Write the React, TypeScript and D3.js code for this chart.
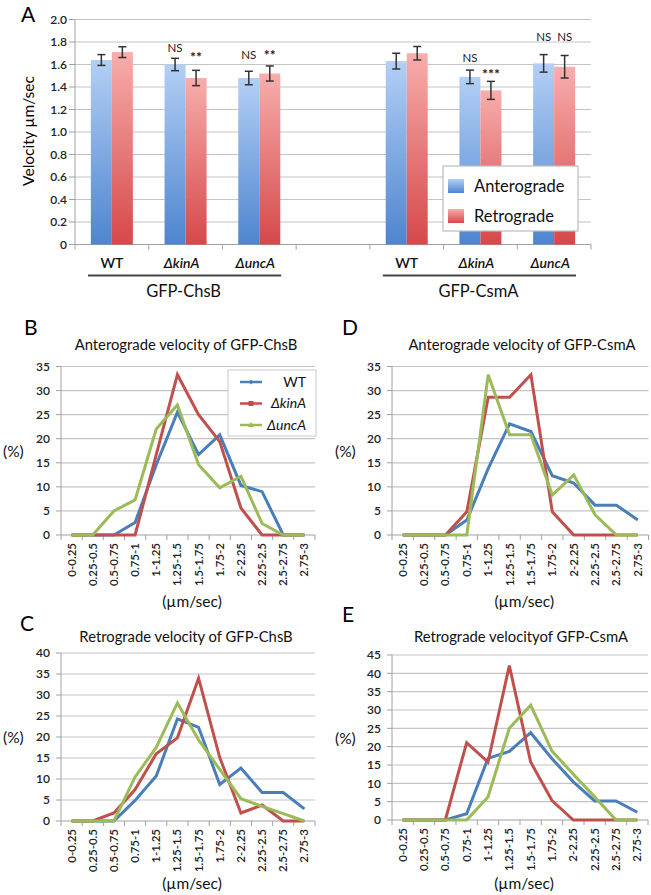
import React from "react";
import * as d3 from "d3";

// ---------- Panel A data ----------
const barCategories = ["WT", "ΔkinA", "ΔuncA", "", "WT", "ΔkinA", "ΔuncA"];
const barSeries = ["Anterograde", "Retrograde"];
const anteroMeans = [1.64, 1.6, 1.48, null, 1.63, 1.49, 1.61];
const anteroErr = [0.048, 0.055, 0.06, null, 0.07, 0.06, 0.078];
const retroMeans = [1.71, 1.48, 1.52, null, 1.7, 1.37, 1.58];
const retroErr = [0.048, 0.068, 0.067, null, 0.06, 0.08, 0.1];
const barYTicks = [0, 0.2, 0.4, 0.6, 0.8, 1.0, 1.2, 1.4, 1.6, 1.8, 2.0];
const groupLabels = ["GFP-ChsB", "GFP-CsmA"];
const groupBands = [[0, 2], [4, 6]];
// significance annotations: category index, series index, text, level (velocity units)
const annotations = [
  { cat: 1, s: 0, text: "NS", at: 1.747 },
  { cat: 1, s: 1, text: "**", at: 1.693 },
  { cat: 2, s: 0, text: "NS", at: 1.689 },
  { cat: 2, s: 1, text: "**", at: 1.707 },
  { cat: 5, s: 0, text: "NS", at: 1.658 },
  { cat: 5, s: 1, text: "***", at: 1.542 },
  { cat: 6, s: 0, text: "NS", at: 1.853 },
  { cat: 6, s: 1, text: "NS", at: 1.853 },
];

// ---------- Histogram panels data ----------
const bins = ["0-0.25", "0.25-0.5", "0.5-0.75", "0.75-1", "1-1.25", "1.25-1.5", "1.5-1.75", "1.75-2", "2-2.25", "2.25-2.5", "2.5-2.75", "2.75-3"];
const strains = ["WT", "ΔkinA", "ΔuncA"];

const antChsB_WT = [0, 0, 0, 2.6, 14.6, 25.5, 16.7, 20.8, 10.3, 9, 0, 0];
const antChsB_kinA = [0, 0, 0, 0, 16.7, 33.3, 25, 19.4, 5.6, 0, 0, 0];
const antChsB_uncA = [0, 0, 5, 7.3, 22, 27, 14.6, 9.8, 12.2, 2.4, 0, 0];

const antCsmA_WT = [0, 0, 0, 3.1, 13.8, 23.1, 21.5, 12.3, 10.8, 6.2, 6.2, 3.1];
const antCsmA_kinA = [0, 0, 0, 4.8, 28.6, 28.6, 33.3, 4.8, 0, 0, 0, 0];
const antCsmA_uncA = [0, 0, 0, 0, 33.3, 20.8, 20.8, 8.3, 12.5, 4.2, 0, 0];

const retChsB_WT = [0, 0, 0, 4.9, 10.7, 24.3, 22.3, 8.7, 12.6, 6.8, 6.8, 2.9];
const retChsB_kinA = [0, 0, 1.9, 7.5, 16, 19.8, 34, 15.1, 1.9, 3.8, 0, 0];
const retChsB_uncA = [0, 0, 0, 10.5, 17.5, 28.1, 19.3, 12.3, 5.3, 3.5, 1.75, 0];

const retCsmA_WT = [0, 0, 0, 1.7, 16.8, 18.7, 23.8, 16.7, 10.4, 5.2, 5.2, 2.1];
const retCsmA_kinA = [0, 0, 0, 21.1, 15.8, 42.1, 15.8, 5.3, 0, 0, 0, 0];
const retCsmA_uncA = [0, 0, 0, 0, 6.3, 25, 31.3, 18.8, 12.5, 6.3, 0, 0];

const lineColors = ["#4a7ebb", "#c0504d", "#9bbb59"];
const FONT = "Lato, 'Open Sans', sans-serif";

function BarPanel() {
  const left = 75, right = 591, top = 19.5, bottom = 244.5;
  const x = d3.scaleBand<number>().domain(d3.range(barCategories.length)).range([left, right]).padding(0);
  const xs = d3.scaleBand<number>().domain([0, 1]).range([0, x.bandwidth()]).paddingInner(0).paddingOuter(0.755);
  const y = d3.scaleLinear().domain([0, 2]).range([bottom, top]);
  const means = [anteroMeans, retroMeans];
  const errs = [anteroErr, retroErr];
  const grads = ["gradBlue", "gradRed"];
  const bw = x.bandwidth();
  return (
    <g>
      <defs>
        <linearGradient id="gradBlue" x1="0" y1="0" x2="0" y2="1">
          <stop offset="0" stopColor="#b3cff5" />
          <stop offset="1" stopColor="#4e85cf" />
        </linearGradient>
        <linearGradient id="gradRed" x1="0" y1="0" x2="0" y2="1">
          <stop offset="0" stopColor="#f7aeac" />
          <stop offset="1" stopColor="#d6484a" />
        </linearGradient>
      </defs>
      <text x={21} y={22} fontFamily={FONT} fontSize={21}>A</text>
      {barYTicks.map((t) => (
        <g key={t}>
          {t > 0 && <line x1={left} x2={right} y1={y(t)} y2={y(t)} stroke="#c4c4c4" strokeWidth={1.2} />}
          <line x1={left - 6} x2={left} y1={y(t)} y2={y(t)} stroke="#a0a0a0" />
          <text x={left - 8} y={y(t)} dy="0.35em" textAnchor="end" fontFamily={FONT} fontSize={12} fontWeight={600} fill="#222">
            {t === 0 ? "0" : d3.format(".1f")(t)}
          </text>
        </g>
      ))}
      <line x1={left} x2={left} y1={top} y2={bottom} stroke="#a0a0a0" />
      <line x1={left} x2={right} y1={bottom} y2={bottom} stroke="#a0a0a0" />
      {d3.range(barCategories.length + 1).map((i) => {
        const xx = i < barCategories.length ? (x(i) as number) : right;
        return <line key={i} x1={xx} x2={xx} y1={bottom} y2={bottom + 5} stroke="#a0a0a0" />;
      })}
      <text transform={`translate(34,131) rotate(-90)`} textAnchor="middle" fontFamily={FONT} fontSize={15.5}>
        Velocity µm/sec
      </text>
      {barCategories.map((c, i) =>
        means.map((m, s) => {
          const v = m[i];
          if (v == null) return null;
          const e = errs[s][i] as number;
          const bx = (x(i) as number) + (xs(s) as number);
          const cx = bx + xs.bandwidth() / 2;
          return (
            <g key={`${i}-${s}`}>
              <rect x={bx} y={y(v)} width={xs.bandwidth()} height={bottom - y(v)} fill={`url(#${grads[s]})`} />
              <line x1={cx} x2={cx} y1={y(v + e)} y2={y(v - e)} stroke="#333" strokeWidth={1.5} />
              <line x1={cx - 4} x2={cx + 4} y1={y(v + e)} y2={y(v + e)} stroke="#333" strokeWidth={1.5} />
              <line x1={cx - 4} x2={cx + 4} y1={y(v - e)} y2={y(v - e)} stroke="#333" strokeWidth={1.5} />
            </g>
          );
        })
      )}
      {annotations.map((a, k) => {
        const cx = (x(a.cat) as number) + (xs(a.s) as number) + xs.bandwidth() / 2;
        const star = a.text.startsWith("*");
        return (
          <text key={k} x={cx} y={y(a.at) + (star ? 7.5 : 4.5)} textAnchor="middle" fontFamily={FONT}
            fontSize={star ? 14 : 11.5} fontWeight={star ? 700 : 400} fill="#222">
            {a.text}
          </text>
        );
      })}
      {barCategories.map((c, i) =>
        c ? (
          <text key={i} x={(x(i) as number) + bw / 2 - (c.startsWith("Δ") ? 4 : 0)} y={268} textAnchor="middle" fontFamily={FONT}
            fontSize={14} fontWeight={600} fontStyle={c.startsWith("Δ") ? "italic" : "normal"} fill="#111">
            {c}
          </text>
        ) : null
      )}
      {groupLabels.map((g, k) => {
        const x0 = x(groupBands[k][0]) as number;
        const x1 = (x(groupBands[k][1]) as number) + bw;
        return (
          <g key={g}>
            <line x1={x0 + 13} x2={x1 - 15} y1={275.5} y2={275.5} stroke="#444" strokeWidth={2} />
            <text x={(x0 + x1) / 2 - 2} y={297} textAnchor="middle" fontFamily={FONT} fontSize={16.5} fill="#111">{g}</text>
          </g>
        );
      })}
      {/* legend */}
      <rect x={443} y={166} width={135} height={65} fill="#fff" stroke="#bdbdbd" strokeWidth={1.2} />
      {barSeries.map((s, k) => (
        <g key={s}>
          <rect x={448} y={179 + k * 30} width={16} height={14} fill={`url(#${grads[k]})`} />
          <text x={474} y={192 + k * 30} fontFamily={FONT} fontSize={16.5} fill="#111">{s}</text>
        </g>
      ))}
    </g>
  );
}

type LineProps = {
  letter: string;
  title: string;
  left: number;
  right: number;
  top: number;
  bottom: number;
  yMax: number;
  series: number[][];
  showLegend?: boolean;
  letterX: number;
  letterY: number;
  titleX: number;
  titleY: number;
  pctX: number;
  unitY: number;
};

function LinePanel(p: LineProps) {
  const x = d3.scaleBand<string>().domain(bins).range([p.left, p.right]).padding(0);
  const y = d3.scaleLinear().domain([0, p.yMax]).range([p.bottom, p.top]);
  const ticks = d3.range(0, p.yMax + 0.001, 5);
  const line = d3.line<number>().x((_, i) => (x(bins[i]) as number) + x.bandwidth() / 2).y((d) => y(d));
  return (
    <g>
      <text x={p.letterX} y={p.letterY} fontFamily={FONT} fontSize={21}>{p.letter}</text>
      <text x={p.titleX} y={p.titleY} textAnchor="middle" fontFamily={FONT} fontSize={14.8} fill="#111">{p.title}</text>
      {ticks.map((t) => (
        <g key={t}>
          {t > 0 && <line x1={p.left} x2={p.right} y1={y(t)} y2={y(t)} stroke="#c4c4c4" strokeWidth={1.2} />}
          <line x1={p.left - 5} x2={p.left} y1={y(t)} y2={y(t)} stroke="#a0a0a0" />
          <text x={p.left - 11} y={y(t)} dy="0.35em" textAnchor="end" fontFamily={FONT} fontSize={12} fontWeight={600} fill="#222">{t}</text>
        </g>
      ))}
      <line x1={p.left} x2={p.left} y1={p.top} y2={p.bottom} stroke="#a0a0a0" />
      <line x1={p.left} x2={p.right} y1={p.bottom} y2={p.bottom} stroke="#a0a0a0" />
      {d3.range(bins.length + 1).map((i) => {
        const xx = i < bins.length ? (x(bins[i]) as number) : p.right;
        return <line key={i} x1={xx} x2={xx} y1={p.bottom} y2={p.bottom + 5} stroke="#a0a0a0" />;
      })}
      {bins.map((b) => (
        <text key={b} transform={`translate(${(x(b) as number) + x.bandwidth() / 2},${p.bottom + 8}) rotate(-90)`}
          textAnchor="end" dy="0.35em" fontFamily={FONT} fontSize={11.5} fontWeight={600} fill="#222">{b}</text>
      ))}
      <text x={p.pctX} y={(p.top + p.bottom) / 2 + 6} fontFamily={FONT} fontSize={15.5} fill="#111">(%)</text>
      <text x={(p.left + p.right) / 2 + 4} y={p.unitY} textAnchor="middle" fontFamily={FONT} fontSize={15.5} fill="#111">(µm/sec)</text>
      {p.series.map((s, k) => (
        <path key={k} d={line(s) as string} fill="none" stroke={lineColors[k]} strokeWidth={3} strokeLinejoin="miter" />
      ))}
      {p.showLegend && (
        <g>
          <rect x={228} y={370} width={88} height={66} fill="#fff" stroke="#c8c8c8" />
          {strains.map((s, k) => {
            const yy = 382 + k * 21.5;
            return (
              <g key={s}>
                <line x1={240} x2={262} y1={yy} y2={yy} stroke={lineColors[k]} strokeWidth={2.5} />
                {k === 0 && <path d={`M251,${yy - 2.5}L253.5,${yy}L251,${yy + 2.5}L248.5,${yy}Z`} fill={lineColors[k]} />}
                {k === 1 && <rect x={248.5} y={yy - 2.5} width={5} height={5} fill={lineColors[k]} />}
                {k === 2 && <path d={`M251,${yy - 3}L254,${yy + 2}L248,${yy + 2}Z`} fill={lineColors[k]} />}
                <text x={306} y={yy} dy="0.35em" textAnchor="end" fontFamily={FONT} fontSize={14}
                  fontStyle={s.startsWith("Δ") ? "italic" : "normal"} fill="#111">{s}</text>
              </g>
            );
          })}
        </g>
      )}
    </g>
  );
}

export default function App() {
  return (
    <svg width={651} height={895} style={{ position: "absolute", left: 0, top: 0, background: "#fff" }}>
      <rect width={651} height={895} fill="#fff" />
      <BarPanel />
      <LinePanel letter="B" title="Anterograde velocity of GFP-ChsB" left={61} right={315} top={366.5} bottom={535}
        yMax={35} series={[antChsB_WT, antChsB_kinA, antChsB_uncA]} showLegend letterX={24} letterY={335}
        titleX={186} titleY={350} pctX={3} unitY={607} />
      <LinePanel letter="D" title="Anterograde velocity of GFP-CsmA" left={392} right={648.5} top={366.5} bottom={535}
        yMax={35} series={[antCsmA_WT, antCsmA_kinA, antCsmA_uncA]} letterX={342} letterY={335}
        titleX={522} titleY={350} pctX={335} unitY={607} />
      <LinePanel letter="C" title="Retrograde velocity of GFP-ChsB" left={61} right={315} top={653} bottom={821}
        yMax={40} series={[retChsB_WT, retChsB_kinA, retChsB_uncA]} letterX={20} letterY={631}
        titleX={186} titleY={642} pctX={3} unitY={889} />
      <LinePanel letter="E" title="Retrograde velocityof GFP-CsmA" left={392} right={648} top={655} bottom={820}
        yMax={45} series={[retCsmA_WT, retCsmA_kinA, retCsmA_uncA]} letterX={342} letterY={622}
        titleX={521} titleY={642} pctX={335} unitY={889} />
    </svg>
  );
}
